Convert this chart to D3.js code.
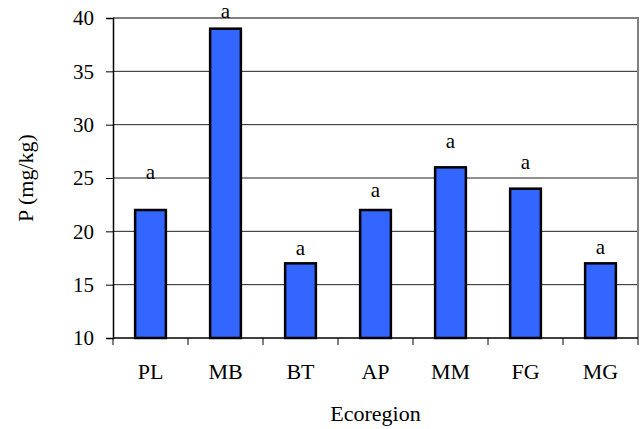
<!DOCTYPE html>
<html>
<head>
<meta charset="utf-8">
<script src="https://cdn.jsdelivr.net/npm/d3@7.9.0/dist/d3.min.js"></script>
<style>
  body { margin: 0; background: #fff; }
</style>
</head>
<body>
<svg id="chart" width="640" height="429"></svg>
<script>
const regions = ['PL', 'MB', 'BT', 'AP', 'MM', 'FG', 'MG'];
const pValues = [22, 39, 17, 22, 26, 24, 17];
// where each significance letter sits, in mg/kg
const letterValues = [24.9, 40.0, 17.8, 23.2, 27.8, 25.8, 17.9];
const letters = ['a', 'a', 'a', 'a', 'a', 'a', 'a'];
const yTicks = [10, 15, 20, 25, 30, 35, 40];

const width = 640;
const height = 429;
const margin = { top: 18, right: 2, bottom: 91, left: 113 };
const serif = 'Liberation Serif';

const svg = d3.select('#chart');

const x = d3.scaleBand()
  .domain(regions)
  .range([margin.left, width - margin.right])
  .paddingInner(0.59)
  .paddingOuter(0.295);

const y = d3.scaleLinear()
  .domain([10, 40])
  .range([height - margin.bottom, margin.top]);

// gridlines
svg.append('g')
  .selectAll('line')
  .data(yTicks.filter((d) => d > 10 && d < 40))
  .join('line')
  .attr('x1', margin.left)
  .attr('x2', width - margin.right)
  .attr('y1', (d) => y(d))
  .attr('y2', (d) => y(d))
  .attr('stroke', '#222')
  .attr('stroke-width', 1);

// plot border (top and right in gray)
svg.append('path')
  .attr('d', `M${margin.left},${y(40)}H${width - margin.right}V${y(10)}`)
  .attr('fill', 'none')
  .attr('stroke', '#808080')
  .attr('stroke-width', 2);

// bars
svg.append('g')
  .selectAll('rect')
  .data(pValues)
  .join('rect')
  .attr('x', (d, i) => x(regions[i]))
  .attr('y', (d) => y(d))
  .attr('width', x.bandwidth())
  .attr('height', (d) => y(10) - y(d))
  .attr('fill', '#3366ff')
  .attr('stroke', '#000')
  .attr('stroke-width', 2.5);

// letters
svg.append('g')
  .selectAll('text')
  .data(letterValues)
  .join('text')
  .attr('x', (d, i) => x(regions[i]) + x.bandwidth() / 2)
  .attr('y', (d) => y(d))
  .attr('text-anchor', 'middle')
  .style('font-family', serif)
  .style('font-size', '21px')
  .text((d, i) => letters[i]);

// y axis
const yAxis = svg.append('g')
  .attr('transform', `translate(${margin.left},0)`)
  .call(d3.axisLeft(y).tickValues(yTicks).tickSize(7).tickPadding(12));
yAxis.attr('font-family', null).attr('font-size', null);
yAxis.select('.domain').attr('stroke', '#000').attr('stroke-width', 1.5);
yAxis.selectAll('.tick line').attr('stroke', '#000');
yAxis.selectAll('.tick text')
  .attr('fill', '#000')
  .style('font-family', serif)
  .style('font-size', '21px');

// x axis
const xTickAt = regions.map((r) => x(r) - x.step() * x.paddingInner() / 2)
  .concat([width - margin.right]);
const xAxis = svg.append('g');
xAxis.append('line')
  .attr('x1', margin.left)
  .attr('x2', width - margin.right)
  .attr('y1', y(10))
  .attr('y2', y(10))
  .attr('stroke', '#000')
  .attr('stroke-width', 1.5);
xAxis.selectAll('.xt')
  .data(xTickAt)
  .join('line')
  .attr('class', 'xt')
  .attr('x1', (d) => d)
  .attr('x2', (d) => d)
  .attr('y1', y(10))
  .attr('y2', y(10) + 7)
  .attr('stroke', '#000');
xAxis.selectAll('text')
  .data(regions)
  .join('text')
  .attr('x', (d) => x(d) + x.bandwidth() / 2)
  .attr('y', y(10) + 41)
  .attr('text-anchor', 'middle')
  .style('font-family', serif)
  .style('font-size', '22px')
  .text((d) => d);

// axis titles
svg.append('text')
  .attr('x', (margin.left + width - margin.right) / 2)
  .attr('y', 421)
  .attr('text-anchor', 'middle')
  .style('font-family', serif)
  .style('font-size', '22px')
  .text('Ecoregion');

svg.append('text')
  .attr('transform', `translate(33,${(margin.top + height - margin.bottom) / 2}) rotate(-90)`)
  .attr('text-anchor', 'middle')
  .style('font-family', serif)
  .style('font-size', '22px')
  .text('P (mg/kg)');
</script>
</body>
</html>
